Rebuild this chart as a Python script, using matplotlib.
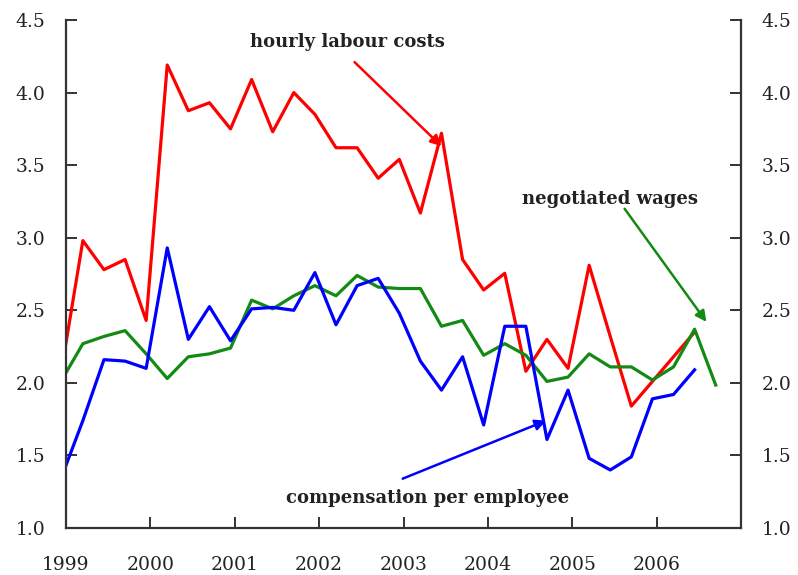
import matplotlib
matplotlib.use("Agg")
import matplotlib.pyplot as plt
import numpy as np

# quarterly observations, first point (1998Q4-ish) falls just left of the axis
start = 1998.95
step = 0.25

hourly_labour_costs = [2.10, 2.98, 2.78, 2.85, 2.43, 4.19, 3.875, 3.93, 3.75, 4.09,
                       3.73, 4.00, 3.85, 3.62, 3.62, 3.41, 3.54, 3.17, 3.72, 2.85,
                       2.64, 2.755, 2.08, 2.30, 2.10, 2.81, 2.32, 1.84, 2.01, 2.18, 2.35]
compensation_per_employee = [1.355, 1.74, 2.16, 2.15, 2.10, 2.93, 2.30, 2.525, 2.29, 2.51,
                             2.52, 2.50, 2.76, 2.40, 2.67, 2.72, 2.48, 2.15, 1.95, 2.18,
                             1.71, 2.39, 2.39, 1.61, 1.95, 1.48, 1.40, 1.49, 1.89, 1.92, 2.09]
negotiated_wages = [2.02, 2.27, 2.32, 2.36, 2.20, 2.03, 2.18, 2.20, 2.24, 2.57,
                    2.51, 2.60, 2.67, 2.60, 2.74, 2.66, 2.65, 2.65, 2.39, 2.43,
                    2.19, 2.27, 2.19, 2.01, 2.04, 2.20, 2.11, 2.11, 2.02, 2.11, 2.37, 1.985]

year_ticks = [1999, 2000, 2001, 2002, 2003, 2004, 2005, 2006]
y_ticks = [1.0, 1.5, 2.0, 2.5, 3.0, 3.5, 4.0, 4.5]

def xs(values):
    return start + step * np.arange(len(values))

plt.rcParams['font.family'] = ['DejaVu Serif']
fig = plt.figure(figsize=(7.98, 5.75), dpi=100)
ax = fig.add_axes([0.0827, 0.0817, 0.8459, 0.8835])

ax.plot(xs(hourly_labour_costs), hourly_labour_costs, color='#ff0000', lw=2.3)
ax.plot(xs(negotiated_wages), negotiated_wages, color='#138a13', lw=2.3)
ax.plot(xs(compensation_per_employee), compensation_per_employee, color='#0000ff', lw=2.3)

ax.set_xlim(1999, 2007)
ax.set_ylim(1.0, 4.5)
ax.set_xticks(year_ticks)
ax.set_xticklabels([str(y) for y in year_ticks])
ax.set_yticks(y_ticks)
ax.set_yticklabels([f"{v:.1f}" for v in y_ticks])

txtc = '#222222'
for s in ['left', 'right', 'bottom']:
    ax.spines[s].set_color('#333333')
    ax.spines[s].set_linewidth(1.6)
ax.spines['top'].set_visible(False)

ax.tick_params(axis='y', direction='in', length=8, width=1.4, color='#333333',
               left=True, right=True, labelleft=True, labelright=True,
               labelsize=13.5, labelcolor=txtc, pad=15)
ax.tick_params(axis='x', direction='in', length=8, width=1.4, color='#333333',
               labelsize=13.5, labelcolor=txtc, pad=20)

fs = 13
ax.text(2002.33, 4.35, "hourly labour costs", fontsize=fs, color=txtc,
        ha='center', va='center', fontweight='semibold')
ax.annotate("", xy=(2003.45, 3.63), xytext=(2002.42, 4.21),
            arrowprops=dict(arrowstyle='-|>', color='#ff0000', lw=1.8,
                            mutation_scale=16, shrinkA=0, shrinkB=0))

ax.text(2005.45, 3.27, "negotiated wages", fontsize=fs, color=txtc,
        ha='center', va='center', fontweight='semibold')
ax.annotate("", xy=(2006.59, 2.42), xytext=(2005.62, 3.20),
            arrowprops=dict(arrowstyle='-|>', color='#138a13', lw=1.8,
                            mutation_scale=16, shrinkA=0, shrinkB=0))

ax.text(2003.28, 1.21, "compensation per employee", fontsize=fs, color=txtc,
        ha='center', va='center', fontweight='semibold')
ax.annotate("", xy=(2004.69, 1.74), xytext=(2002.99, 1.34),
            arrowprops=dict(arrowstyle='-|>', color='#0000ff', lw=1.8,
                            mutation_scale=16, shrinkA=0, shrinkB=0))

fig.savefig("out.png", dpi=100)
